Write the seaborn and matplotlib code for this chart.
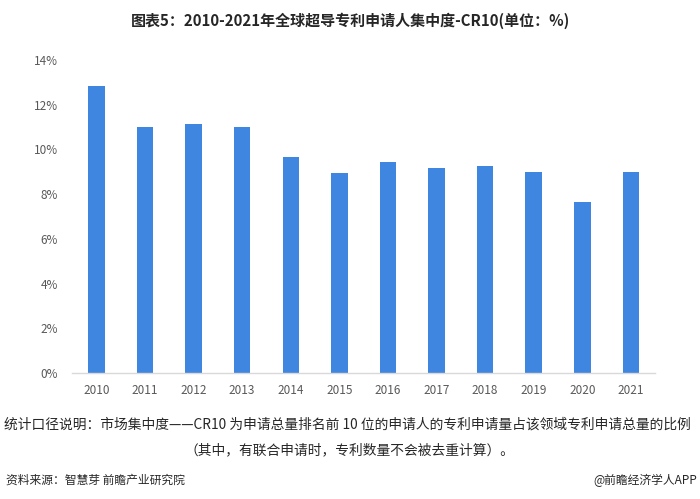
import matplotlib
matplotlib.use("Agg")
import matplotlib.pyplot as plt
import seaborn as sns
import pandas as pd
from matplotlib.ticker import FuncFormatter

years = ["2010", "2011", "2012", "2013", "2014", "2015", "2016", "2017", "2018", "2019", "2020", "2021"]
cr10 = [12.83, 11.01, 11.14, 11.01, 9.67, 8.93, 9.43, 9.15, 9.27, 8.97, 7.63, 8.97]
yticks = [0, 2, 4, 6, 8, 10, 12, 14]

title = "图表5：2010-2021年全球超导专利申请人集中度-CR10(单位：%)"
note1 = "统计口径说明：市场集中度——CR10 为申请总量排名前 10 位的申请人的专利申请量占该领域专利申请总量的比例"
note2 = "（其中，有联合申请时，专利数量不会被去重计算）。"
source = "资料来源：智慧芽 前瞻产业研究院"
brand = "@前瞻经济学人APP"

sns.set_theme(style="white")
plt.rcParams['font.family'] = ['Noto Sans CJK SC', 'DejaVu Sans']

df = pd.DataFrame({"year": years, "value": cr10})

fig = plt.figure(figsize=(7, 4.99), dpi=100)
ax = fig.add_axes([0.103, 0.252, 0.833, 0.628])
sns.barplot(data=df, x="year", y="value", color="#3F86E0", saturation=1,
            width=0.34, linewidth=0, ax=ax)
ax.set_xlim(-0.5, 11.5)
ax.set_ylim(0, 14)
ax.set_yticks(yticks)
ax.yaxis.set_major_formatter(FuncFormatter(lambda v, p: f"{int(v)}%"))
ax.set_xlabel("")
ax.set_ylabel("")
for s in ["top", "right", "left"]:
    ax.spines[s].set_visible(False)
ax.spines["bottom"].set_color("#d9d9d9")
ax.spines["bottom"].set_linewidth(1)
ax.tick_params(axis="both", length=0, labelsize=8.5, colors="#595959")
ax.tick_params(axis="x", pad=8)
ax.tick_params(axis="y", pad=10)

fig.text(0.5, 0.958, title, ha="center", va="center", fontsize=10.8,
         fontweight="bold", color="#262626")
fig.text(0.006, 0.150, note1, ha="left", va="center", fontsize=9.9, color="#262626")
fig.text(0.5, 0.098, note2, ha="center", va="center", fontsize=9.9, color="#262626")
fig.text(0.008, 0.038, source, ha="left", va="center", fontsize=8.5, color="#262626")
fig.text(0.996, 0.038, brand, ha="right", va="center", fontsize=8.5, color="#262626")

fig.savefig("out.png", dpi=100)
